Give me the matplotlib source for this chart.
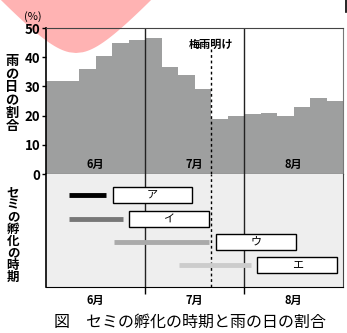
import numpy as np
import matplotlib
matplotlib.use('Agg')
import matplotlib.pyplot as plt
from matplotlib.patches import Polygon, Rectangle

plt.rcParams['font.family'] = ['Noto Sans CJK JP', 'DejaVu Sans']

# rainy-day ratio per half-decade (5-day period), June..August
rain = [32, 32, 36, 40.5, 45, 46, 46.7, 36.5, 34, 29, 19, 20, 20.4, 21, 20, 23, 26, 25]
months = ['6月', '7月', '8月']
tsuyu_ake = 10  # end of rainy season (period index)

# cicada hatching periods (period index) and answer boxes
hatch_start = [1.4, 1.4, 4.1, 8.05]
hatch_end = [3.65, 4.65, 9.9, 12.4]
hatch_colors = ['#000000', '#777777', '#aaaaaa', '#cccccc']
box_start = [4.05, 5.0, 10.3, 12.8]
box_end = [8.85, 9.9, 15.15, 17.65]
box_labels = ['ア', 'イ', 'ウ', 'エ']

W, H = 347, 333
fig = plt.figure(figsize=(W / 100, H / 100), dpi=100)
fig.patch.set_facecolor('white')

# full-figure overlay for decorations and vertical labels
ax0 = fig.add_axes([0, 0, 1, 1], zorder=-1)
ax0.set_xlim(0, W)
ax0.set_ylim(H, 0)
ax0.axis('off')

h = np.linspace(0, 60, 80)
hw = 0.93 * np.sqrt(h ** 2 + 70 * h)
xs = np.concatenate([76 - hw, (76 + hw)[::-1]])
ys = np.concatenate([53 - h, (53 - h)[::-1]])
ax0.add_patch(Polygon(np.column_stack([xs, ys]), closed=True,
                      facecolor='#ffb3b3', edgecolor='none'))
ax0.plot([346, 346], [0, 12], color='black', lw=1.2)

def vlabel(text, x, y0, pitch, size):
    for i, ch in enumerate(text):
        ax0.text(x, y0 + i * pitch, ch, ha='center', va='center',
                 fontsize=size, fontweight='bold')

vlabel('雨の日の割合', 12, 61, 13, 9.5)
vlabel('セミの孵化の時期', 13, 193, 12, 9)
ax0.text(33, 17, '(%)', ha='center', va='center', fontsize=8)
ax0.text(190, 322, '図　セミの孵化の時期と雨の日の割合', ha='center', va='center',
         fontsize=11.5)

# top panel: rainy days
ax1 = fig.add_axes([46 / W, (H - 174) / H, 297 / W, 146 / H])
ax1.patch.set_alpha(0)
n = len(rain)
ax1.bar(np.arange(n), rain, width=1, align='edge', color='#9e9f9f', linewidth=0)
ax1.set_xlim(0, n)
ax1.set_ylim(0, 50)
ax1.set_yticks(range(0, 51, 10))
ax1.set_xticks([])
ax1.tick_params(axis='y', direction='out', length=3, width=1, labelsize=9.5, pad=1)
for lab in ax1.get_yticklabels():
    lab.set_fontweight('bold')
for x in (6, 12):
    ax1.axvline(x, color='#222222', lw=1)
ax1.axvline(tsuyu_ake, color='black', lw=1, ls=(0, (2, 2)), ymax=0.87)
ax1.text(tsuyu_ake, 44.5, '梅雨明け', ha='center', va='center', fontsize=8,
         fontweight='bold')
for i, m in enumerate(months):
    ax1.text(3 + 6 * i, 3.4, m, ha='center', va='center', fontsize=8,
             fontweight='bold')
ax1.spines['left'].set_color('black')
ax1.spines['left'].set_linewidth(1.2)
ax1.spines['top'].set_color('#444444')
ax1.spines['right'].set_color('#777777')
ax1.spines['bottom'].set_color('#333333')

# bottom panel: hatching periods
ax2 = fig.add_axes([46 / W, (H - 287) / H, 297 / W, 113 / H])
ax2.set_facecolor('#eeeeee')
ax2.set_xlim(0, n)
ax2.set_ylim(0, 1)
ax2.set_yticks([])
ax2.set_xticks([6, 12])
ax2.set_xticklabels([])
ax2.tick_params(axis='x', direction='out', length=5, width=1)
for x in (6, 12):
    ax2.axvline(x, color='#222222', lw=1)
ax2.axvline(tsuyu_ake, color='black', lw=1, ls=(0, (2, 2)))
rows = [0.814, 0.60, 0.398, 0.195]
for y, s, e, c, bs, be, lab in zip(rows, hatch_start, hatch_end, hatch_colors,
                                    box_start, box_end, box_labels):
    ax2.plot([s, e], [y, y], color=c, lw=3.5, solid_capstyle='butt')
    ax2.add_patch(Rectangle((bs, y - 0.071), be - bs, 0.142, facecolor='white',
                            edgecolor='black', lw=1, zorder=3))
    ax2.text((bs + be) / 2, y, lab, ha='center', va='center', fontsize=8,
             zorder=4)
for i, m in enumerate(months):
    ax2.text(3 + 6 * i, -0.115, m, ha='center', va='center', fontsize=8,
             fontweight='bold')
ax2.spines['top'].set_visible(False)
ax2.spines['left'].set_color('black')
ax2.spines['left'].set_linewidth(1.2)
ax2.spines['bottom'].set_color('black')
ax2.spines['right'].set_color('#444444')

fig.savefig('out.png', dpi=100)
